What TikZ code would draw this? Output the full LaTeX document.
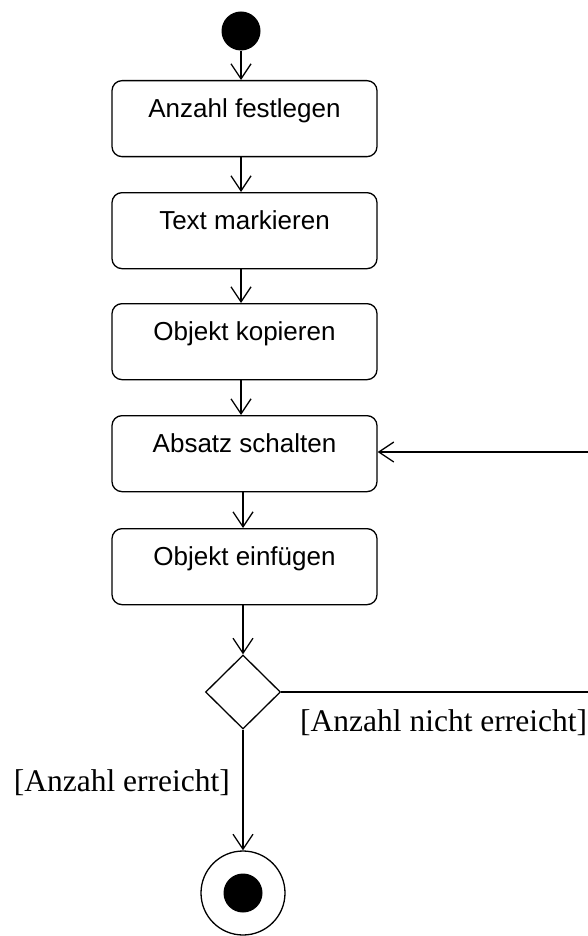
\documentclass[tikz,border=0pt]{standalone}
\usepackage{fontspec}
\setmainfont{Liberation Sans}
\newfontfamily\lserif{Liberation Serif}
\usetikzlibrary{arrows.meta,shapes.geometric}
\begin{document}
\begin{tikzpicture}[x=1pt,y=-1pt,
  act/.style={draw, rounded corners=10pt, minimum width=265pt, inner xsep=0pt, inner ysep=0pt,
    text height=37pt, text depth=39pt, line width=1.3pt, anchor=north,
    font=\fontsize{26}{30}\selectfont},
  flow/.style={-{Straight Barb[length=15pt,width=20pt,line width=1.3pt]}, line width=1.3pt},
  plain/.style={line width=1.3pt},
  lbl/.style={inner sep=0pt, font=\lserif\fontsize{31.5}{36}\selectfont},
  startnode/.style={circle, fill=black, minimum size=39pt, inner sep=0pt},
  decnode/.style={diamond, draw, line width=1.3pt, minimum width=75pt, minimum height=74pt, inner sep=0pt},
  endouter/.style={circle, draw, line width=1.3pt, minimum size=84pt, inner sep=0pt},
  endinner/.style={circle, fill=black, minimum size=39pt, inner sep=0pt}]
\useasboundingbox (0,0) rectangle (588,936);
\fill[white] (0,0) rectangle (588,936);

\node[startnode] (start) at (241,31) {};
\node[act] (a1) at (244.5,80) {Anzahl festlegen};
\node[act] (a2) at (244.5,192) {Text markieren};
\node[act] (a3) at (244.5,303) {Objekt kopieren};
\node[act] (a4) at (244.5,415) {Absatz schalten};
\node[act] (a5) at (244.5,528) {Objekt einfügen};
\node[decnode] (dec) at (243,692) {};
\node[endouter] (endo) at (243,893) {};
\node[endinner] (endi) at (243,893) {};

\coordinate (r1) at (592,692);
\coordinate (r2) at (592,452);

\draw[flow] (start) -- (start |- a1.north);
\draw[flow] (a1.south -| start) -- (a2.north -| start);
\draw[flow] (a2.south -| start) -- (a3.north -| start);
\draw[flow] (a3.south -| start) -- (a4.north -| start);
\draw[flow] (a4.south -| dec) -- (a5.north -| dec);
\draw[flow] (a5.south -| dec) -- (dec.north);
\draw[flow] (dec.south) -- (endo.north);
\draw[plain] (dec.east) -- (r1);
\draw[flow] (r2) -- (r2 -| a4.east);

\node[lbl, anchor=base west] (lno) at (300,731) {[Anzahl nicht erreicht]};
\node[lbl, anchor=base east] (lyes) at (230,791) {[Anzahl erreicht]};
\end{tikzpicture}
\end{document}
